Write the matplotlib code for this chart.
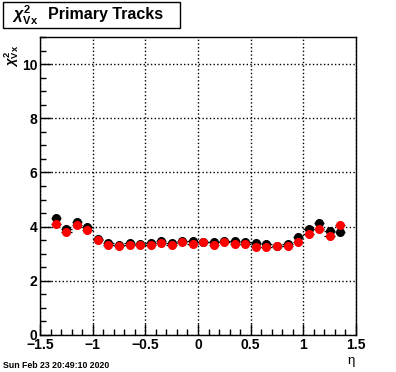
import numpy as np
import matplotlib
matplotlib.use("Agg")
import matplotlib.pyplot as plt
from matplotlib.ticker import MultipleLocator
from matplotlib.patches import Rectangle

## params to control plot
plt.rcParams.update({
    'font.family'      : 'Liberation Sans',
    'font.weight'      : 'bold',
    'mathtext.fontset' : 'custom',
    'mathtext.rm'      : 'Liberation Sans:bold',
    'mathtext.bf'      : 'Liberation Sans:bold',
    'mathtext.it'      : 'Liberation Sans:italic:bold',
    'xtick.direction'  : 'in',
    'ytick.direction'  : 'in',
})

## data (eta bin centres, chi2 per bin)
eta = [-1.35, -1.25, -1.15, -1.05, -0.95, -0.85, -0.75, -0.65, -0.55, -0.45,
       -0.35, -0.25, -0.15, -0.05, 0.05, 0.15, 0.25, 0.35, 0.45, 0.55,
       0.65, 0.75, 0.85, 0.95, 1.05, 1.15, 1.25, 1.35]
chi2_black = [4.33, 3.90, 4.18, 3.99, 3.54, 3.39, 3.32, 3.38, 3.36, 3.41,
              3.47, 3.41, 3.47, 3.47, 3.44, 3.44, 3.47, 3.47, 3.44, 3.41,
              3.37, 3.28, 3.35, 3.62, 3.90, 4.14, 3.85, 3.81]
chi2_red = [4.08, 3.79, 4.06, 3.88, 3.52, 3.32, 3.27, 3.33, 3.32, 3.33,
            3.38, 3.32, 3.42, 3.36, 3.42, 3.32, 3.45, 3.37, 3.36, 3.25,
            3.24, 3.27, 3.29, 3.42, 3.72, 3.90, 3.65, 4.06]
half_bin = 0.05
yerr = 0.06

fig = plt.figure(figsize=(3.96, 3.72), dpi=100)
ax = fig.add_axes([40/396, 1-335/372, 316/396, 298/372])

## black series first, red on top
ax.errorbar(eta, chi2_black, xerr=half_bin, yerr=yerr, fmt='o', color='k',
            ms=5.5, elinewidth=1, capsize=0)
ax.errorbar(eta, chi2_red, xerr=half_bin, yerr=yerr, fmt='o', color='red',
            ecolor='k', ms=5.5, elinewidth=1, capsize=0)

ax.set_xlim(-1.5, 1.5)
ax.set_ylim(0, 11)
ax.set_xticks([-1.5, -1, -0.5, 0, 0.5, 1, 1.5])
ax.set_xticklabels(['\u22121.5', '\u22121', '\u22120.5', '0', '0.5', '1', '1.5'])
ax.xaxis.set_minor_locator(MultipleLocator(0.1))
ax.yaxis.set_major_locator(MultipleLocator(2))
ax.yaxis.set_minor_locator(MultipleLocator(0.5))
ax.tick_params(which='major', length=8, width=1, labelsize=10, pad=2)
ax.tick_params(which='minor', length=4, width=1)
ax.grid(True, which='major', color='k', linestyle=':', linewidth=1)
for sp in ax.spines.values():
    sp.set_linewidth(1)

## axis titles
fig.text(351/396, 1-361/372, '\u03b7', fontsize=9.5, fontweight='normal',
         ha='center', va='center')
fig.text(12/396, 1-56/372, r'$\chi^{2}_{\mathrm{Vx}}$', fontsize=9.5,
         rotation=90, ha='center', va='center')

## title box
fig.patches.append(Rectangle((3/396, 1-28/372), 177/396, 26/372,
                             transform=fig.transFigure, fill=False,
                             edgecolor='k', linewidth=1))
fig.text(12/396, 1-15/372, r'$\chi^{2}_{\mathrm{Vx}}$', fontsize=11.5,
         ha='left', va='center')
fig.text(48/396, 1-14/372, 'Primary Tracks', fontsize=11.5,
         ha='left', va='center')

## date stamp
fig.text(3/396, 1-366/372, 'Sun Feb 23 20:49:10 2020', fontsize=6.3,
         ha='left', va='center')

fig.savefig('out.png', dpi=100)
